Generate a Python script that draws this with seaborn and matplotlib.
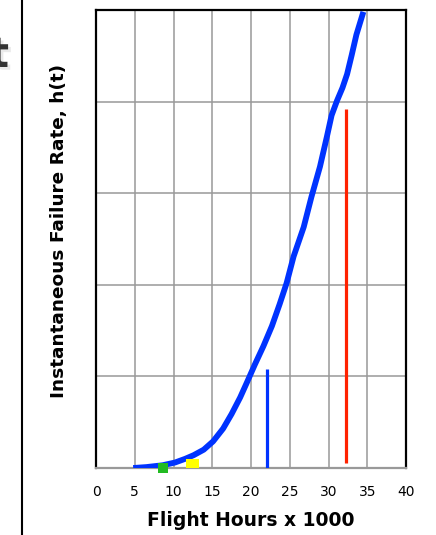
import numpy as np
import pandas as pd
import matplotlib
matplotlib.use("Agg")
import matplotlib.pyplot as plt
import matplotlib.patheffects as pe
from matplotlib.lines import Line2D
import seaborn as sns

# Hazard curve (flight hours x 1000, relative rate)
hours = [4.8, 6.5, 8.6, 10.2, 11.5, 12.6, 13.9, 15.1, 16.4, 17.5, 18.6,
         19.4, 20.5, 21.6, 22.7, 23.7, 24.6, 25.5, 26.8, 27.8, 28.9, 29.8,
         30.4, 31.1, 31.8, 32.4, 33.0, 33.6, 34.5]
rate = [0.0, 0.01, 0.03, 0.06, 0.10, 0.14, 0.20, 0.29, 0.43, 0.59, 0.77,
        0.92, 1.13, 1.33, 1.55, 1.79, 2.02, 2.31, 2.63, 2.96, 3.29, 3.62,
        3.85, 4.01, 4.15, 4.30, 4.51, 4.73, 4.98]

# Vertical event markers
spike_x = [22.0, 32.3]
spike_bottom = [0.0, 0.06]
spike_top = [1.08, 3.92]
spike_colors = ["#0033FF", "#FF2200"]

# Small points on the axis
dot_x = [8.6, 12.5]
dot_y = [0.0, 0.05]
dot_colors = ["#22BB22", "#FFFF00"]

x_ticks = [0, 5, 10, 15, 20, 25, 30, 35, 40]
y_grid = [0, 1, 2, 3, 4, 5]

curve = pd.DataFrame({"hours": hours, "rate": rate})

sns.set_theme(style="white")
plt.rcParams["font.family"] = ["DejaVu Sans"]

fig = plt.figure(figsize=(4.36, 5.35), dpi=100)
ax = fig.add_axes([96 / 436, 1 - 468 / 535, 310 / 436, 458 / 535])

ax.set_xlim(0, 40)
ax.set_ylim(0, 5)
ax.set_xticks(x_ticks)
ax.set_yticks(y_grid)
ax.set_yticklabels([])
ax.grid(True, color="#999999", linewidth=1.1)
ax.set_axisbelow(True)

sns.lineplot(data=curve, x="hours", y="rate", ax=ax, color="#0033FF",
             linewidth=4.2, solid_capstyle="butt", solid_joinstyle="round",
             zorder=3)

ax.vlines(spike_x, spike_bottom, spike_top, colors=spike_colors,
          linewidth=2.3, zorder=4)

ax.scatter(dot_x[:1], dot_y[:1], marker="s", s=50, color=dot_colors[0],
           edgecolor="none", zorder=5, clip_on=False)
rect = [(-1.6, -1), (1.6, -1), (1.6, 1), (-1.6, 1), (-1.6, -1)]
ax.scatter(dot_x[1:], dot_y[1:], marker=rect, s=90, color=dot_colors[1],
           edgecolor="none", zorder=5, clip_on=False)

for side in ["top", "right", "left"]:
    ax.spines[side].set_color("black")
    ax.spines[side].set_linewidth(1.6)
ax.spines["bottom"].set_color("#999999")
ax.spines["bottom"].set_linewidth(1.6)

ax.tick_params(axis="x", length=0, pad=12, labelsize=10, labelcolor="black")
ax.tick_params(axis="y", length=0)

ax.set_xlabel("Flight Hours x 1000", fontsize=13.5, fontweight="bold",
              color="black", labelpad=9)
ax.set_ylabel("Instantaneous Failure Rate, h(t)", fontsize=13.3,
              fontweight="bold", color="black")
ax.yaxis.set_label_coords(-0.091, 0.517)

# leftover piece of a neighbouring panel
fig.add_artist(Line2D([21.7 / 436, 21.7 / 436], [0, 1], color="black",
                      linewidth=1.5, transform=fig.transFigure))
fig.text(9 / 436, 1 - 55 / 535, "t", fontsize=30, fontweight="bold",
         color="#333333", ha="right", va="center",
         path_effects=[pe.withSimplePatchShadow(offset=(2, -2),
                                                shadow_rgbFace="#bbbbbb")])

plt.savefig("out.png", dpi=100)
